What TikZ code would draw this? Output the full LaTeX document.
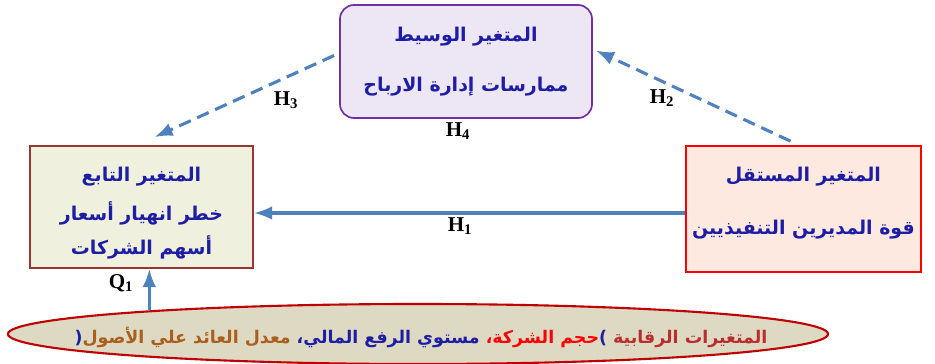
\documentclass[tikz,border=0pt]{standalone}
\usepackage{fontspec}
\setmainfont{Liberation Serif}
\newfontfamily\arabicfont[Script=Arabic]{DejaVu Sans}
\TeXXeTstate=1
\usetikzlibrary{arrows.meta,positioning,calc,shapes.geometric}
\definecolor{txtblue}{RGB}{30,30,165}
\definecolor{linkblue}{RGB}{79,129,189}
\definecolor{medline}{RGB}{112,48,160}
\definecolor{medfill}{RGB}{237,231,245}
\definecolor{depline}{RGB}{149,55,53}
\definecolor{depfill}{RGB}{240,240,222}
\definecolor{indfill}{RGB}{253,233,224}
\definecolor{ctrlline}{RGB}{192,0,0}
\definecolor{ctrlfill}{RGB}{221,217,195}
\definecolor{ctrlred}{RGB}{185,45,45}
\definecolor{ctrlbrown}{RGB}{170,95,30}

\begin{document}
\begin{tikzpicture}[>=Latex, x=0.025cm, y=-0.025cm,
  box/.style={draw, line width=1.2pt, align=center, inner sep=0pt, text=txtblue,
    font=\arabicfont\bfseries\fontsize{13.5}{16}\selectfont},
  linkarrow/.style={->, linkblue, line width=2.2pt},
  dasharrow/.style={linkarrow, dash pattern=on 9pt off 5pt},
  hlabel/.style={font=\bfseries\fontsize{15}{18}\selectfont}]
  \useasboundingbox (0,0) rectangle (935,363);
  % the three variable boxes
  \node[box, draw=medline, fill=medfill, rounded corners=10pt, minimum width=6.3cm, minimum height=2.825cm]
    (med) at (466,61.5) {\beginR المتغير الوسيط\endR\\[20pt] \beginR ممارسات إدارة الارباح\endR};
  \node[box, draw=depline, fill=depfill, minimum width=5.575cm, minimum height=3.05cm]
    (dep) at (141.5,207) {\mbox{}\\[3pt] \beginR المتغير التابع\endR\\[10pt] \beginR خطر انهيار أسعار\endR\\[7pt] \beginR أسهم الشركات\endR};
  \node[box, draw=red, fill=indfill, minimum width=5.875cm, minimum height=3.15cm]
    (ind) at (803.5,209) {\beginR المتغير المستقل\endR\\[22pt] \beginR قوة المديرين التنفيذيين\endR\\[-4pt]\mbox{}};
  % control variables (pieces set left to right, each one right to left)
  \node[ellipse, draw=ctrlline, line width=1.5pt, fill=ctrlfill, inner sep=0pt,
    minimum width=20.5cm, minimum height=1.5cm] (ctrl) at (418,334) {};
  \node[inner sep=0pt, font=\arabicfont\bfseries\fontsize{12.4}{15}\selectfont] (ctrltext) at (421,337)
    {\textcolor{txtblue}{(}{\color{ctrlbrown}\beginR معدل العائد علي الأصول\endR} {\color{txtblue}\beginR مستوي الرفع المالي،\endR} {\color{red}\beginR حجم الشركة،\endR}\textcolor{txtblue}{)} {\color{ctrlred}\beginR المتغيرات الرقابية\endR}};
  % connectors
  \coordinate (h1s) at ($(ind.west)+(0,4)$);
  \draw[linkarrow] (h1s) -- (h1s -| dep.east);
  \draw[dasharrow] ($(ind.north)+(-13,-4)$) -- ($(med.east)+(3,-11)$);
  \draw[dasharrow] ($(med.west)+(-5,-6)$) -- ($(dep.north)+(13,-8)$);
  \draw[linkarrow] (ctrl.175) -- (ctrl.175 |- dep.south);
  % hypothesis labels
  \node[hlabel] (h1) at (460,226) {H$_{\mathbf 1}$};
  \node[hlabel] (h2) at (662,98) {H$_{\mathbf 2}$};
  \node[hlabel] (h3) at (286,100) {H$_{\mathbf 3}$};
  \node[hlabel] (h4) at (458,131) {H$_{\mathbf 4}$};
  \node[hlabel] (q1) at (121,283) {Q$_{\mathbf 1}$};
\end{tikzpicture}
\end{document}
